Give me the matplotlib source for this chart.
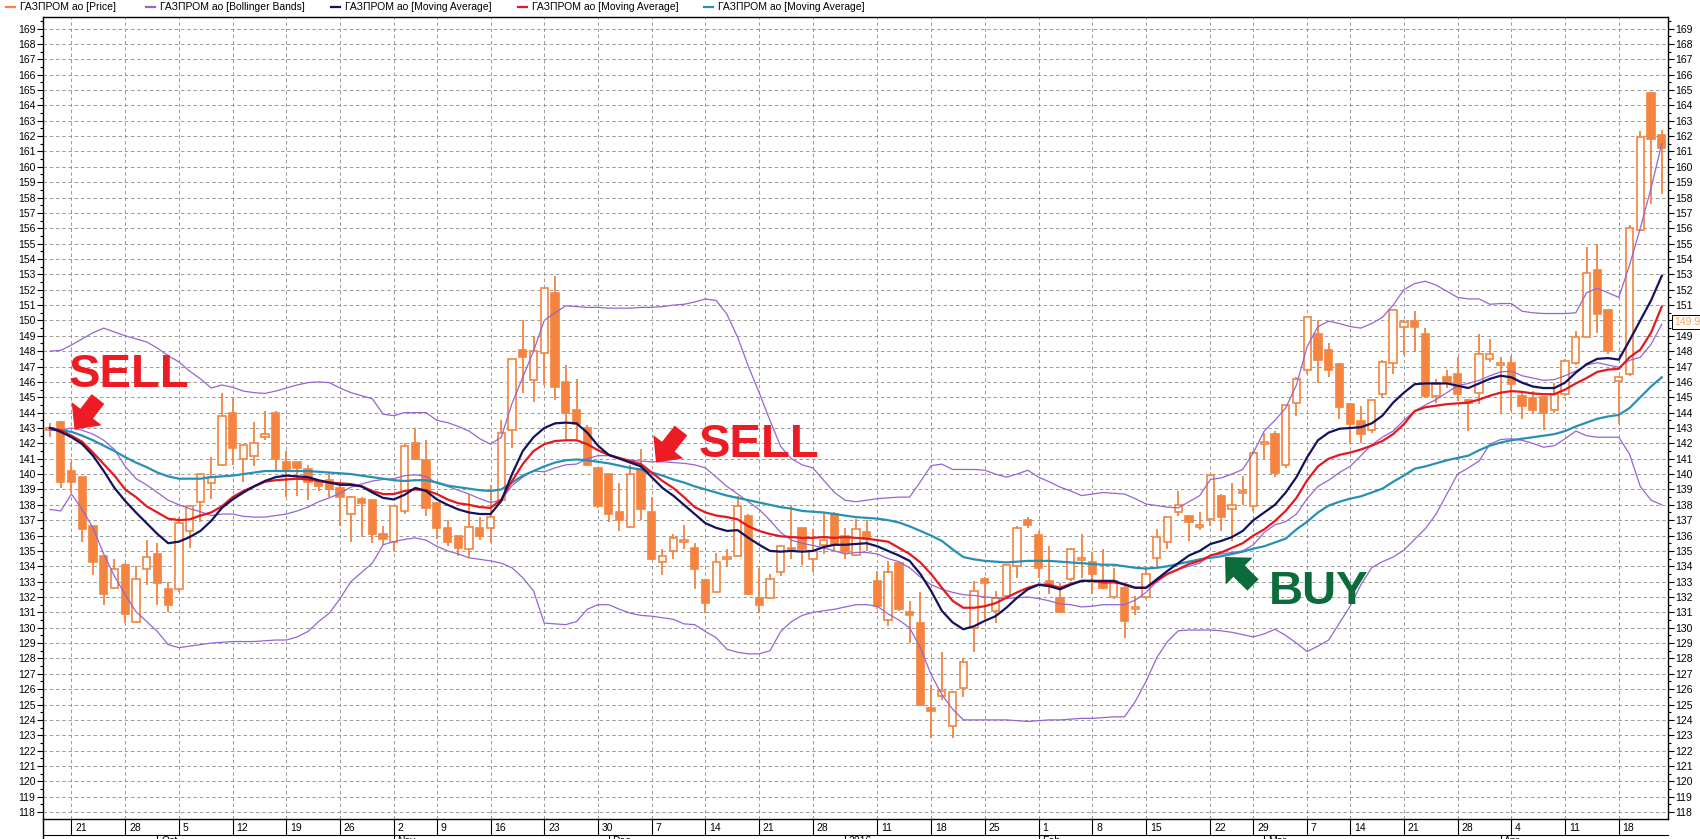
import numpy as np
import matplotlib
matplotlib.use("Agg")
import matplotlib.pyplot as plt
from matplotlib.patches import Rectangle, Polygon
from matplotlib.lines import Line2D
from matplotlib.ticker import MultipleLocator
import matplotlib.transforms as mtransforms

plt.rcParams['font.family'] = ['Liberation Sans', 'DejaVu Sans']
plt.rcParams['lines.scale_dashes'] = False

# ---------------- data ----------------
open_ = [142.9, 143.4, 140.2, 139.8, 136.6, 134.7, 132.6, 134.1, 130.4, 133.8,
         134.8, 132.5, 132.5, 136.3, 138.2, 139.4, 140.6, 144.0, 141.0, 141.2,
         142.4, 144.0, 140.8, 140.8, 140.3, 139.5, 139.6, 139.1, 137.4, 138.4,
         138.3, 136.1, 135.6, 137.6, 142.0, 140.9, 138.1, 136.5, 136.0, 135.1,
         136.5, 136.5, 138.3, 142.9, 148.1, 146.1, 147.9, 151.8, 146.0, 144.2,
         143.0, 140.4, 140.0, 137.5, 136.55, 140.3, 137.5, 134.3, 135.0, 135.6,
         135.2, 133.1, 132.3, 134.5, 134.65, 137.3, 131.95, 131.95, 133.6, 135.1,
         136.5, 134.45, 135.4, 137.4, 136.0, 134.75, 136.25, 133.05, 130.5, 134.2,
         131.05, 130.3, 124.8, 125.55, 123.6, 126.05, 130.0, 133.15, 131.1, 132.05,
         134.0, 137.0, 136.05, 133.05, 131.95, 133.15, 134.4, 134.25, 133.05, 132.0,
         132.6, 131.2, 132.0, 134.55, 135.55, 137.5, 137.3, 136.55, 137.05, 138.6,
         137.7, 138.75, 137.95, 141.95, 142.6, 140.6, 144.65, 146.8, 149.1, 148.05,
         147.15, 144.55, 143.45, 142.9, 145.2, 147.25, 149.55, 149.95, 149.1, 145.1,
         146.3, 146.5, 144.8, 145.3, 147.5, 147.1, 147.25, 145.1, 144.95, 145.0,
         144.2, 145.2, 147.25, 148.95, 153.3, 150.65, 146.05, 146.5, 155.9, 164.8,
         162.1]
high = [143.3, 143.4, 140.8, 139.8, 136.6, 134.7, 134.5, 134.2, 134.0, 135.7,
        135.5, 133.0, 137.2, 138.0, 140.0, 141.1, 145.3, 145.0, 141.9, 143.4,
        144.1, 144.1, 141.5, 140.8, 140.6, 139.6, 140.1, 139.3, 138.6, 138.5,
        138.3, 136.6, 137.9, 142.0, 143.0, 142.2, 138.2, 137.0, 136.0, 138.7,
        137.2, 139.3, 143.5, 147.5, 150.0, 149.0, 152.1, 152.9, 147.1, 146.2,
        143.2, 140.4, 140.0, 139.45, 140.6, 141.6, 138.5, 135.1, 136.1, 136.7,
        135.5, 133.1, 134.85, 135.1, 138.6, 137.4, 133.9, 133.5, 135.3, 138.0,
        136.5, 136.45, 137.5, 137.5, 136.5, 137.05, 137.0, 133.7, 134.35, 134.2,
        131.75, 132.3, 126.3, 128.4, 125.9, 128.05, 133.05, 133.3, 132.4, 134.1,
        136.6, 137.2, 136.3, 135.3, 132.9, 135.2, 136.1, 134.9, 135.1, 133.9,
        132.7, 132.05, 133.8, 136.4, 137.2, 138.9, 137.35, 137.5, 140.0, 138.7,
        139.45, 139.9, 141.5, 142.7, 142.8, 144.5, 146.3, 150.3, 150.0, 148.55,
        147.2, 144.6, 144.45, 144.8, 147.4, 150.7, 150.0, 150.6, 149.5, 146.2,
        146.8, 147.6, 144.9, 149.1, 148.8, 147.6, 147.7, 145.3, 145.4, 145.1,
        145.95, 147.5, 149.3, 154.75, 155.0, 150.65, 146.4, 156.2, 162.35, 164.9,
        162.4]
low = [142.4, 139.1, 138.8, 135.6, 133.4, 131.5, 132.5, 130.3, 130.3, 132.8,
       131.5, 131.0, 132.3, 135.2, 136.9, 138.4, 140.5, 140.6, 139.5, 140.5,
       142.2, 140.2, 138.5, 138.6, 138.3, 138.9, 138.5, 136.6, 135.6, 135.9,
       135.5, 135.4, 135.0, 137.4, 140.9, 137.3, 135.8, 135.3, 134.7, 134.6,
       135.7, 135.5, 138.2, 141.7, 145.3, 144.7, 145.8, 144.8, 142.3, 142.3,
       140.5, 137.8, 136.85, 136.3, 136.5, 137.0, 134.4, 133.4, 134.45, 135.1,
       132.5, 130.95, 132.3, 134.0, 134.6, 132.1, 130.95, 131.9, 133.35, 134.45,
       134.1, 133.6, 134.8, 135.0, 134.45, 134.7, 135.0, 131.2, 130.1, 131.1,
       129.0, 125.0, 122.8, 125.3, 122.85, 125.5, 128.4, 130.55, 130.3, 131.95,
       133.25, 136.5, 133.25, 132.2, 130.95, 133.05, 133.25, 132.2, 132.5, 131.85,
       129.35, 130.8, 131.9, 134.0, 135.1, 137.3, 135.65, 136.35, 136.6, 136.3,
       135.65, 138.0, 137.6, 140.9, 139.8, 140.4, 143.8, 146.5, 145.95, 146.3,
       143.6, 141.95, 142.05, 142.7, 145.0, 146.5, 147.75, 147.95, 144.95, 144.65,
       145.6, 144.75, 142.8, 144.55, 147.3, 144.0, 144.1, 143.6, 144.0, 142.9,
       144.0, 145.1, 147.1, 148.9, 149.2, 147.8, 143.25, 146.4, 155.8, 157.6,
       158.2]
close = [143.0, 139.5, 139.5, 136.4, 134.3, 132.2, 133.85, 130.9, 133.2, 134.6,
         132.9, 131.5, 136.8, 137.9, 140.0, 139.8, 143.8, 141.7, 141.9, 142.0,
         142.6, 141.0, 140.3, 140.4, 139.5, 139.2, 139.0, 138.5, 138.5, 138.1,
         136.1, 135.8, 137.9, 141.8, 141.0, 137.8, 136.5, 135.6, 135.2, 136.55,
         136.0, 137.2, 142.7, 147.5, 147.6, 148.0, 152.1, 145.7, 144.0, 143.25,
         140.6, 137.9, 137.4, 137.0, 140.0, 137.7, 134.45, 134.65, 135.85, 135.65,
         133.8, 131.6, 134.3, 134.6, 137.9, 132.2, 131.5, 133.15, 135.3, 135.15,
         135.1, 135.0, 135.7, 135.4, 134.9, 136.4, 135.8, 131.4, 133.6, 131.2,
         130.8, 125.0, 124.6, 125.9, 125.8, 127.8, 132.4, 132.9, 131.95, 134.05,
         136.5, 136.7, 133.9, 132.7, 131.0, 135.1, 134.5, 133.5, 132.6, 133.05,
         130.45, 131.3, 133.5, 135.9, 137.2, 138.0, 136.9, 136.65, 139.95, 137.2,
         138.0, 138.85, 141.4, 142.05, 140.1, 144.5, 146.2, 150.2, 147.45, 146.8,
         144.35, 143.25, 142.6, 144.8, 147.3, 150.65, 149.9, 149.55, 145.1, 145.85,
         146.0, 145.2, 144.6, 147.8, 147.8, 147.2, 145.85, 144.45, 144.15, 143.95,
         145.2, 147.35, 148.9, 153.1, 150.4, 148.0, 146.3, 156.0, 161.95, 161.8,
         161.25]

ma_fast = [143.0, 142.75, 142.4, 141.95, 141.2, 140.2, 139.1, 138.25, 137.5, 136.8,
           136.1, 135.5, 135.6, 135.9, 136.3, 136.95, 137.8, 138.35, 138.8, 139.2,
           139.55, 139.8, 139.9, 139.85, 139.8, 139.6, 139.45, 139.3, 139.3, 139.2,
           138.8, 138.45, 138.35, 138.65, 139.1, 138.9, 138.35, 138.0, 137.7, 137.5,
           137.4, 137.4, 138.25, 140.0, 141.5, 142.4, 143.0, 143.3, 143.35, 143.3,
           142.7, 141.85, 141.25, 141.0, 140.75, 140.5, 139.8, 139.1, 138.6, 138.0,
           137.4, 136.8, 136.5, 136.3, 136.35, 135.85, 135.4, 135.0, 134.95, 135.0,
           134.95, 135.0, 135.25, 135.4, 135.4, 135.45, 135.5, 135.3, 135.0, 134.7,
           134.35, 133.5, 132.4, 131.1, 130.35, 129.9, 130.1, 130.45, 130.75, 131.3,
           131.95, 132.5, 132.8, 132.7, 132.5, 132.8, 133.05, 133.05, 133.05, 133.05,
           132.8, 132.6, 132.6, 133.15, 133.7, 134.2, 134.7, 135.0, 135.45, 135.65,
           135.9, 136.3, 137.0, 137.5, 138.0, 138.8, 139.8, 141.1, 142.2, 142.7,
           142.95, 143.0, 143.05, 143.3, 143.8, 144.65, 145.3, 145.85, 145.9, 145.9,
           145.9, 145.75, 145.6, 145.9, 146.2, 146.4, 146.3, 145.95, 145.7, 145.6,
           145.6, 145.95, 146.6, 147.15, 147.5, 147.55, 147.45, 148.7, 150.0, 151.3,
           152.9]
ma_mid = [143.0, 142.85, 142.5, 142.1, 141.4, 140.65, 139.9, 139.0, 138.5, 137.9,
          137.5, 137.1, 137.0, 137.05, 137.3, 137.5, 137.9, 138.5, 138.9, 139.2,
          139.5, 139.6, 139.65, 139.7, 139.65, 139.55, 139.45, 139.4, 139.35, 139.2,
          138.9, 138.7, 138.7, 138.9, 139.0, 138.95, 138.7, 138.35, 138.1, 138.0,
          137.85, 137.8, 138.35, 139.55, 140.65, 141.5, 141.95, 142.15, 142.2, 142.2,
          141.95, 141.55, 141.25, 141.05, 140.85, 140.65, 140.1, 139.55, 139.1, 138.5,
          137.85, 137.5, 137.3, 137.2, 137.05, 136.6, 136.3, 136.1, 135.95, 135.9,
          135.85, 135.85, 135.9, 135.85, 135.9, 135.85, 135.8, 135.7, 135.6, 135.2,
          134.8, 134.25, 133.5, 132.6, 131.75, 131.3, 131.3, 131.4, 131.6, 131.95,
          132.3, 132.6, 132.8, 132.8, 132.6, 132.85, 133.05, 133.05, 132.95, 132.95,
          132.85, 132.6, 132.6, 133.05, 133.5, 133.8, 134.15, 134.35, 134.7, 134.9,
          135.2, 135.5, 136.0, 136.4, 136.95, 137.6, 138.45, 139.6, 140.5, 141.0,
          141.25, 141.4, 141.6, 141.85, 142.15, 142.6, 143.25, 144.1, 144.35, 144.45,
          144.55, 144.6, 144.65, 144.85, 145.1, 145.3, 145.4, 145.35, 145.25, 145.2,
          145.2, 145.5, 145.9, 146.25, 146.65, 146.8, 146.85, 147.6, 148.1, 149.2,
          150.9]
ma_slow = [143.0, 142.85, 142.75, 142.5, 142.2, 141.85, 141.5, 141.1, 140.75, 140.45,
           140.1, 139.85, 139.7, 139.7, 139.7, 139.8, 139.85, 139.9, 140.0, 140.1,
           140.2, 140.2, 140.2, 140.2, 140.2, 140.15, 140.1, 140.05, 140.0, 139.9,
           139.8, 139.7, 139.6, 139.55, 139.6, 139.6, 139.45, 139.25, 139.15, 139.05,
           138.95, 138.9, 139.0, 139.45, 139.9, 140.2, 140.5, 140.75, 140.9, 140.95,
           140.9, 140.8, 140.7, 140.55, 140.4, 140.3, 140.1, 139.9, 139.65, 139.45,
           139.2, 139.0, 138.8, 138.6, 138.45, 138.3, 138.15, 138.0, 137.85, 137.75,
           137.6, 137.55, 137.5, 137.4, 137.3, 137.2, 137.15, 137.1, 137.0, 136.85,
           136.6, 136.3, 136.0, 135.65, 135.1, 134.6, 134.45, 134.35, 134.3, 134.25,
           134.3, 134.35, 134.35, 134.35, 134.3, 134.25, 134.2, 134.15, 134.1, 134.1,
           134.0, 133.9, 133.85, 133.9, 134.0, 134.15, 134.3, 134.45, 134.55, 134.65,
           134.8, 134.95, 135.15, 135.3, 135.55, 135.8, 136.4, 136.9, 137.5, 137.95,
           138.2, 138.4, 138.55, 138.8, 139.05, 139.5, 139.9, 140.35, 140.5, 140.7,
           140.9, 141.05, 141.2, 141.55, 141.85, 142.05, 142.2, 142.3, 142.4, 142.5,
           142.6, 142.8, 143.1, 143.35, 143.6, 143.75, 143.85, 144.3, 145.0, 145.7,
           146.3]
bb_upper = [148.0, 148.05, 148.4, 148.8, 149.2, 149.5, 149.25, 149.0, 148.8, 148.6,
            148.2, 147.7, 147.3, 146.7, 146.2, 145.6, 145.8, 145.65, 145.4, 145.3,
            145.25, 145.4, 145.6, 145.8, 145.95, 146.0, 145.95, 145.6, 145.3, 145.1,
            144.9, 143.9, 143.8, 144.0, 144.0, 144.0, 143.5, 143.35, 143.1, 142.8,
            142.3, 141.95, 142.4, 144.6, 146.3, 148.0, 150.0, 150.5, 150.95, 150.9,
            150.85, 150.85, 150.8, 150.8, 150.8, 150.85, 150.85, 150.9, 151.0, 151.05,
            151.2, 151.4, 151.3, 150.4, 148.9, 147.0, 145.3, 143.5, 141.8, 141.0,
            140.6, 140.4, 139.6, 138.8, 138.3, 138.2, 138.3, 138.4, 138.45, 138.5,
            138.5, 139.5, 140.55, 140.65, 140.3, 140.3, 140.3, 140.25, 140.0, 139.8,
            140.0, 140.25, 139.8, 139.5, 139.15, 138.9, 138.6, 138.7, 138.8, 138.75,
            138.7, 138.4, 138.05, 137.95, 137.85, 137.8, 138.2, 138.6, 139.65, 139.75,
            140.0, 140.3, 141.4, 142.8, 143.5, 144.3, 145.8, 148.3, 149.6, 149.95,
            149.8, 149.6, 149.5, 149.8, 150.2, 151.0, 152.0, 152.4, 152.55, 152.3,
            151.9, 151.5, 151.4, 151.4, 151.05, 151.1, 151.1, 150.6, 150.5, 150.45,
            150.45, 150.45, 150.5, 151.8, 152.1, 151.8, 151.5, 153.6, 156.0, 158.6,
            161.5]
bb_mid = [142.85, 142.85, 143.0, 142.85, 142.6, 142.2, 141.6, 140.5, 139.7, 139.3,
          138.8, 138.3, 138.0, 137.75, 137.55, 137.3, 137.4, 137.4, 137.25, 137.2,
          137.2, 137.3, 137.4, 137.6, 137.85, 138.2, 138.45, 138.75, 139.15, 139.35,
          139.55, 139.65, 139.7, 139.9, 139.95, 139.85, 139.4, 139.2, 138.95, 138.7,
          138.4, 138.15, 138.3, 139.25, 139.8, 140.2, 140.15, 140.4, 140.6, 140.65,
          141.0, 141.2, 141.2, 141.0, 140.9, 140.85, 140.8, 140.8, 140.75, 140.7,
          140.6, 140.4, 139.8, 139.2, 138.7, 138.2, 137.7, 137.0, 136.2, 135.7,
          135.5, 135.35, 135.2, 135.0, 134.8, 134.9, 134.9, 134.8, 134.5, 134.3,
          133.9, 133.3, 132.8, 132.5, 132.3, 132.15, 132.1, 132.0, 131.95, 131.9,
          131.95, 132.0, 131.9, 131.75, 131.55, 131.5, 131.35, 131.4, 131.5, 131.5,
          131.5, 131.8, 132.3, 133.0, 133.5, 133.8, 134.0, 134.2, 134.7, 134.8,
          134.9, 135.0, 135.4, 136.2, 136.7, 136.9, 137.4, 138.4, 139.2, 139.6,
          140.1, 140.5, 141.2, 141.9, 142.4, 142.8, 143.5, 144.1, 144.5, 144.85,
          145.3, 145.75, 145.9, 146.1, 146.4, 146.65, 146.7, 146.4, 146.25, 146.1,
          146.15, 146.4, 146.7, 147.1, 147.25, 147.1, 146.95, 147.4, 147.6, 148.45,
          149.75]
bb_lower = [137.7, 137.6, 138.7, 137.7, 136.5, 134.8, 133.35, 132.15, 131.05, 130.4,
            129.75, 128.9, 128.7, 128.8, 128.9, 129.0, 129.05, 129.1, 129.1, 129.1,
            129.15, 129.2, 129.2, 129.4, 129.75, 130.4, 130.95, 131.9, 133.0, 133.6,
            134.2, 135.4, 135.6, 135.75, 135.85, 135.7, 135.3, 135.0, 134.8, 134.55,
            134.45, 134.35, 134.2, 133.9, 133.25, 132.4, 130.3, 130.25, 130.2, 130.4,
            131.2, 131.5, 131.5, 131.2, 130.95, 130.8, 130.75, 130.65, 130.55, 130.25,
            130.2, 129.75, 129.35, 128.6, 128.4, 128.3, 128.3, 128.5, 129.75, 130.4,
            130.8, 131.0, 131.1, 131.2, 131.35, 131.5, 131.5, 131.4, 130.9, 130.5,
            130.0, 128.7, 126.95, 125.65, 124.7, 124.0, 124.0, 124.0, 124.0, 124.0,
            123.95, 123.9, 123.95, 124.0, 124.0, 124.05, 124.1, 124.1, 124.15, 124.2,
            124.2, 125.2, 126.5, 128.05, 129.1, 129.8, 129.85, 129.85, 129.85, 129.8,
            129.7, 129.55, 129.4, 129.6, 129.9, 129.5, 129.0, 128.45, 128.8, 129.2,
            130.3, 131.4, 132.8, 133.9, 134.3, 134.6, 135.05, 135.75, 136.45, 137.4,
            138.7, 140.0, 140.4, 140.85, 141.95, 142.25, 142.3, 142.2, 142.0, 141.75,
            141.85, 142.3, 142.8, 142.5, 142.4, 142.4, 142.4, 141.3, 139.2, 138.3,
            138.0]

week_start_idx = [2, 7, 12, 17, 22, 27, 32, 36, 41, 46, 51, 56, 61, 66, 71,
                  77, 82, 87, 92, 97, 102, 108, 112, 117, 121, 126, 131, 136, 141, 146]
week_labels = ['21', '28', '5', '12', '19', '26', '2', '9', '16', '23', '30', '7', '14', '21', '28',
               '11', '18', '25', '1', '8', '15', '22', '29', '7', '14', '21', '28', '4', '11', '18']
month_start_idx = [10, 32, 52, 74, 92, 113, 135]
month_labels = ['Oct', 'Nov', 'Dec', '2016', 'Feb', 'Mar', 'Apr']
price_ticks = list(range(118, 170))
last_price = 149.9
legend_labels = ['ГАЗПРОМ ао [Price]', 'ГАЗПРОМ ао [Bollinger Bands]',
                 'ГАЗПРОМ ао [Moving Average]', 'ГАЗПРОМ ао [Moving Average]',
                 'ГАЗПРОМ ао [Moving Average]']
signal_texts = ['SELL', 'SELL', 'BUY']

# ---------------- styling ----------------
CANDLE = '#f4843f'
BB = '#9664d2'
NAVY = '#12125e'
RED = '#e2191e'
TEAL = '#2690b6'
SIG_RED = '#ed1c24'
SIG_GREEN = '#0b6b3a'
GRID = '#8a8a8a'

W, H = 1700, 839
fig = plt.figure(figsize=(W / 100, H / 100), dpi=100)
fig.patch.set_facecolor('white')


def fx(x):
    return x / W


def fy(y):
    return 1 - y / H


AX_L, AX_R, AX_T, AX_B = 43, 1668, 17, 819
ax = fig.add_axes([fx(AX_L), fy(AX_B), (AX_R - AX_L) / W, (AX_B - AX_T) / H])
n = len(close)
idx = np.arange(n)
XL = (-0.65, 150.58)
ax.set_xlim(*XL)
ax.set_ylim(117.55, 169.75)

# candles
o = np.array(open_); c = np.array(close); h = np.array(high); l = np.array(low)
ax.vlines(idx, l, h, color=CANDLE, lw=1.3, zorder=2)
for i in range(n):
    bottom = min(o[i], c[i])
    height = max(abs(c[i] - o[i]), 0.12)
    fc = 'white' if c[i] >= o[i] else CANDLE
    ax.add_patch(Rectangle((i - 0.34, bottom), 0.68, height, facecolor=fc,
                           edgecolor=CANDLE, lw=1.2, zorder=3))

# indicator lines
ax.plot(idx, bb_upper, color=BB, lw=0.9, zorder=4)
ax.plot(idx, bb_mid, color=BB, lw=0.9, zorder=4)
ax.plot(idx, bb_lower, color=BB, lw=0.9, zorder=4)
ax.plot(idx, ma_slow, color=TEAL, lw=1.6, zorder=5)
ax.plot(idx, ma_mid, color=RED, lw=1.6, zorder=6)
ax.plot(idx, ma_fast, color=NAVY, lw=1.6, zorder=7)

# grid / ticks
ax.set_xticks(week_start_idx)
ax.set_yticks(price_ticks)
ax.set_yticklabels([str(t) for t in price_ticks])
ax.yaxis.set_minor_locator(MultipleLocator(0.5))
ax.grid(True, which='major', color=GRID, lw=0.6, linestyle=(0, (2.5, 2.0)))
ax.set_axisbelow(True)
ax.tick_params(axis='x', length=0, labelbottom=False)
ax.tick_params(axis='y', which='major', left=True, right=True, labelleft=True,
               labelright=True, length=4.5, width=0.8, labelsize=7.5, pad=1.0,
               direction='out')
ax.tick_params(axis='y', which='minor', left=True, right=True, length=2.2,
               width=0.8, direction='out')
for s in ax.spines.values():
    s.set_color('black')
    s.set_linewidth(1.0)

# last price box on right axis
trans = mtransforms.blended_transform_factory(ax.transAxes, ax.transData)
ax.annotate(f'{last_price:.1f}', xy=(1, last_price), xycoords=trans,
            xytext=(4.5, 0), textcoords='offset points', ha='left', va='center',
            fontsize=7.5, color='#f4a460', annotation_clip=False, zorder=10,
            bbox=dict(boxstyle='square,pad=0.2', fc='white', ec='black', lw=0.7))

# date strip
axd = fig.add_axes([fx(AX_L), 0, (AX_R - AX_L) / W, (H - AX_B) / H])
axd.set_xlim(*XL)
axd.set_ylim(H, AX_B)
axd.axis('off')
ROW = 834.5
axd.plot(XL, [ROW, ROW], color='black', lw=0.8, clip_on=False)
axd.plot([XL[0], XL[0]], [AX_B, H], color='black', lw=1.0, clip_on=False)
for i, lab in zip(week_start_idx, week_labels):
    axd.plot([i, i], [AX_B, ROW], color='black', lw=0.8)
    axd.text(i + 0.35, (AX_B + ROW) / 2 + 0.8, lab, fontsize=7.5, ha='left', va='center')
for i, lab in zip(month_start_idx, month_labels):
    axd.plot([i, i], [ROW, H], color='black', lw=0.8)
    axd.text(i + 0.35, ROW + 1.6, lab, fontsize=7.5, ha='left', va='top')

# legend row
legend_colors = [CANDLE, BB, NAVY, RED, TEAL]
legend_x = [6, 146, 331, 518, 704]
for x0, lab, col in zip(legend_x, legend_labels, legend_colors):
    fig.add_artist(Line2D([fx(x0), fx(x0 + 9)], [fy(6.5), fy(6.5)], color=col,
                          lw=1.6, transform=fig.transFigure))
    fig.text(fx(x0 + 14), fy(6.5), lab, fontsize=7.5, va='center', ha='left')


# signal annotations (pixel layout)
def block_arrow(tip, tail, shaft_w, head_w, head_l, color):
    tip = np.array(tip, float)
    tail = np.array(tail, float)
    d = tip - tail
    d /= np.hypot(*d)
    nrm = np.array([-d[1], d[0]])
    neck = tip - d * head_l
    pts = [tail + nrm * shaft_w / 2, neck + nrm * shaft_w / 2, neck + nrm * head_w / 2,
           tip, neck - nrm * head_w / 2, neck - nrm * shaft_w / 2, tail - nrm * shaft_w / 2]
    pts = [(fx(px), fy(py)) for px, py in pts]
    fig.add_artist(Polygon(pts, closed=True, transform=fig.transFigure,
                           facecolor=color, edgecolor='none', zorder=20))


signal_layout = [
    dict(text_xy=(69, 387), tip=(74.5, 429.5), tail=(98, 399), color=SIG_RED),
    dict(text_xy=(699, 457), tip=(656, 462.5), tail=(681, 430.5), color=SIG_RED),
    dict(text_xy=(1269, 604), tip=(1225, 557), tail=(1253, 585), color=SIG_GREEN),
]
for txt, lay in zip(signal_texts, signal_layout):
    block_arrow(lay['tip'], lay['tail'], 16, 38, 20, lay['color'])
    fig.text(fx(lay['text_xy'][0]), fy(lay['text_xy'][1]), txt, fontsize=34,
             fontweight='bold', color=lay['color'], ha='left', va='baseline',
             family='Liberation Sans', zorder=20)

fig.savefig('out.png', dpi=100, facecolor='white')
